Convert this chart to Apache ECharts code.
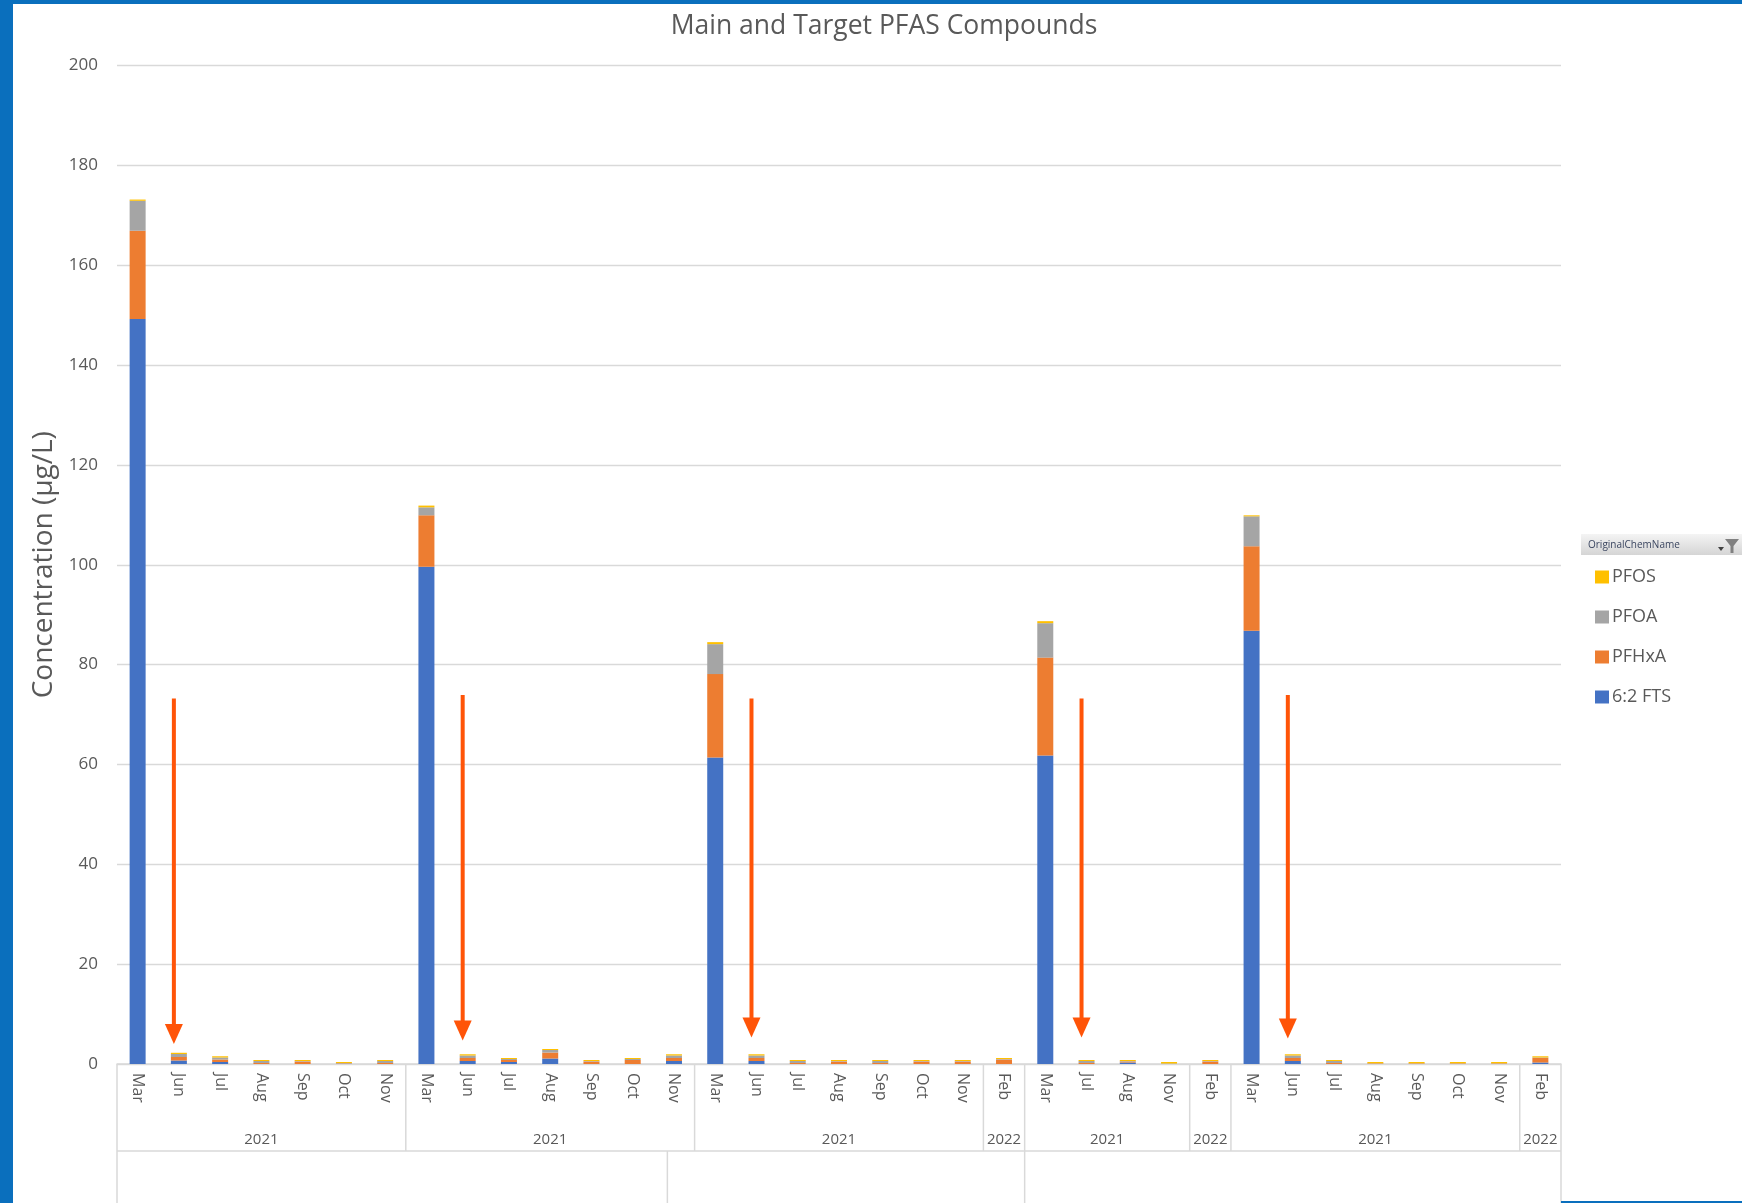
<!DOCTYPE html>
<html>
<head>
<meta charset="utf-8">
<script src="https://cdn.jsdelivr.net/npm/echarts@6/dist/echarts.min.js"></script>
<style>
  html, body { margin: 0; padding: 0; background: #ffffff; }
  #chart { position: absolute; left: 0; top: 0; width: 1742px; height: 1203px; }
  .frame { position: absolute; background: #0A6FBD; }
</style>
</head>
<body>
<div id="chart"></div>
<div class="frame" style="left:0;top:0;width:1742px;height:4px"></div>
<div class="frame" style="left:0;top:0;width:13px;height:1203px"></div>
<div class="frame" style="left:1561px;top:1201px;width:181px;height:2px"></div>
<script>
// Sampling months (inner axis level), one entry per bar
const months = [
  'Mar','Jun','Jul','Aug','Sep','Oct','Nov',
  'Mar','Jun','Jul','Aug','Sep','Oct','Nov',
  'Mar','Jun','Jul','Aug','Sep','Oct','Nov','Feb',
  'Mar','Jul','Aug','Nov','Feb',
  'Mar','Jun','Jul','Aug','Sep','Oct','Nov','Feb'
];
// Year level: label and number of months it covers
const yearLabels = ['2021','2021','2021','2022','2021','2022','2021','2022'];
const yearSpans  = [7, 7, 7, 1, 4, 1, 7, 1];
// Outer level (blank labels): widths in category units
const outerSpans = [13.34, 8.66, 13];

// Concentrations (µg/L) per compound
const fts62 = [149.2,0.7,0.4,0,0,0,0,  99.6,0.6,0.4,1.1,0,0,0.6,  61.4,0.6,0,0,0,0,0,0,  61.8,0,0.3,0,0,  86.8,0.6,0,0,0,0,0,0.3];
const pfhxa = [17.7,0.7,0.5,0.2,0.5,0.1,0.2,  10.3,0.6,0.4,1.2,0.5,0.8,0.6,  16.7,0.6,0.2,0.5,0.2,0.5,0.5,0.9,  19.6,0.2,0.2,0,0.5,  16.9,0.6,0.2,0.1,0.1,0.1,0.1,0.9];
const pfoa  = [6.0,0.6,0.4,0.4,0.1,0.1,0.4,  1.6,0.5,0.2,0.5,0.1,0.2,0.5,  6.0,0.5,0.4,0.1,0.4,0.1,0.1,0.1,  6.9,0.4,0.1,0.1,0.1,  6.0,0.5,0.4,0.05,0.05,0.05,0.05,0.1];
const pfos  = [0.25,0.25,0.25,0.2,0.2,0.2,0.2,  0.35,0.25,0.2,0.2,0.2,0.2,0.25,  0.4,0.25,0.2,0.2,0.2,0.2,0.2,0.2,  0.4,0.2,0.2,0.3,0.2,  0.2,0.25,0.2,0.25,0.25,0.25,0.25,0.25];

// Annotation arrows: [category index, start value, tip value]
const arrows = [[1, 73.2, 4.0], [8, 73.9, 4.7], [15, 73.2, 5.3], [23, 73.2, 5.3], [28, 73.9, 5.1]];

const yTicks = { min: 0, max: 200, interval: 20 };

const FONT = '"Open Sans", "Noto Sans", sans-serif';
const GREY_TEXT = '#595959';
const RULE = '#D9D9D9';

const chart = echarts.init(document.getElementById('chart'), null, { renderer: 'canvas' });

const barSeries = (name, data, color) => ({
  name, type: 'bar', stack: 'total', data, barWidth: 16,
  itemStyle: { color }, emphasis: { disabled: true }
});

chart.setOption({
  animation: false,
  backgroundColor: 'transparent',
  textStyle: { fontFamily: FONT },
  title: {
    text: 'Main and Target PFAS Compounds',
    left: 879, top: 8, textAlign: 'center',
    textStyle: { fontFamily: FONT, fontSize: 26.5, fontWeight: 'normal', color: GREY_TEXT }
  },
  grid: { left: 117, right: 181, top: 65.5, bottom: 139, containLabel: false },
  legend: {
    orient: 'vertical', left: 1590, top: 563, itemWidth: 14, itemHeight: 13, itemGap: 22,
    icon: 'rect', selectedMode: false,
    data: ['PFOS', 'PFOA', 'PFHxA', '6:2 FTS'],
    textStyle: { fontFamily: FONT, fontSize: 18, color: GREY_TEXT, padding: [0, 0, 0, -2] }
  },
  xAxis: {
    type: 'category', data: months,
    axisLine: { lineStyle: { color: RULE, width: 1.5 } },
    axisTick: { show: false },
    axisLabel: { interval: 0, rotate: -90, fontSize: 16, color: GREY_TEXT, margin: 9, fontFamily: FONT }
  },
  yAxis: {
    type: 'value', min: yTicks.min, max: yTicks.max, interval: yTicks.interval,
    name: 'Concentration (µg/L)', nameLocation: 'middle', nameRotate: 90, nameGap: 56,
    nameTextStyle: { fontFamily: FONT, fontSize: 28, color: GREY_TEXT },
    axisLine: { show: false }, axisTick: { show: false },
    axisLabel: { fontSize: 17, color: GREY_TEXT, margin: 19, fontFamily: FONT },
    splitLine: { lineStyle: { color: RULE, width: 1.3 } }
  },
  series: [
    barSeries('6:2 FTS', fts62, '#4472C4'),
    barSeries('PFHxA', pfhxa, '#ED7D31'),
    barSeries('PFOA', pfoa, '#A5A5A5'),
    barSeries('PFOS', pfos, '#FFC000'),
    {
      name: 'arrows', type: 'custom', data: arrows, silent: true, z: 5,
      renderItem: (params, api) => {
        const start = api.coord([api.value(0), api.value(1)]);
        const tip = api.coord([api.value(0), api.value(2)]);
        const hw = 9, hh = 20, dx = -5; // arrows sit a little left of the bar centre
        const x = tip[0] + dx;
        return {
          type: 'group', children: [
            { type: 'line', shape: { x1: x, y1: start[1], x2: x, y2: tip[1] - hh + 2 },
              style: { stroke: '#FF5408', lineWidth: 4 } },
            { type: 'polygon', shape: { points: [[x - hw, tip[1] - hh], [x + hw, tip[1] - hh], [x, tip[1]]] },
              style: { fill: '#FF5408' } }
          ]
        };
      }
    }
  ]
});

// Multi-level category axis frame: year row and outer row drawn under the month labels
function drawAxisLevels() {
  const x0 = chart.convertToPixel({ xAxisIndex: 0 }, 0);
  const x1 = chart.convertToPixel({ xAxisIndex: 0 }, 1);
  const step = x1 - x0;
  const edge = k => x0 - step / 2 + k * step;
  const axisY = chart.convertToPixel({ yAxisIndex: 0 }, 0);
  const yearBottom = axisY + 87;
  const bottom = 1203;
  const n = months.length;
  const lineStyle = { stroke: RULE, lineWidth: 1.5 };
  const els = [];

  // year row separators and labels
  let k = 0;
  els.push({ type: 'line', shape: { x1: edge(0), y1: axisY, x2: edge(0), y2: bottom }, style: lineStyle });
  yearSpans.forEach((span, i) => {
    const a = edge(k), b = edge(k + span);
    els.push({ type: 'line', shape: { x1: b, y1: axisY, x2: b, y2: i === yearSpans.length - 1 ? bottom : yearBottom }, style: lineStyle });
    els.push({ type: 'text', x: (a + b) / 2, y: axisY + 76,
      style: { text: yearLabels[i], fill: GREY_TEXT, font: '15px ' + FONT, align: 'center', verticalAlign: 'middle' } });
    k += span;
  });
  els.push({ type: 'line', shape: { x1: edge(0), y1: yearBottom, x2: edge(n), y2: yearBottom }, style: lineStyle });

  // outer row separators
  let acc = 0;
  outerSpans.slice(0, -1).forEach(span => {
    acc += span;
    els.push({ type: 'line', shape: { x1: edge(acc), y1: yearBottom, x2: edge(acc), y2: bottom }, style: lineStyle });
  });

  // legend field header with filter button
  els.push({ type: 'rect', shape: { x: 1581, y: 534, width: 161, height: 21 },
    style: { fill: new echarts.graphic.LinearGradient(0, 0, 0, 1, [{ offset: 0, color: '#F4F4F4' }, { offset: 1, color: '#D5D5D5' }]) } });
  els.push({ type: 'text', x: 1588, y: 545,
    style: { text: 'OriginalChemName', fill: '#3B4660', font: '10px ' + FONT, verticalAlign: 'middle' } });
  els.push({ type: 'polygon', shape: { points: [[1718, 547], [1724, 547], [1721, 551]] }, style: { fill: '#404040' } });
  els.push({ type: 'polygon', shape: { points: [[1725, 539], [1739, 539], [1733.5, 546], [1733.5, 553], [1730.5, 553], [1730.5, 546]] },
    style: { fill: '#808080' } });

  chart.setOption({ graphic: els });
}
drawAxisLevels();
</script>
</body>
</html>
